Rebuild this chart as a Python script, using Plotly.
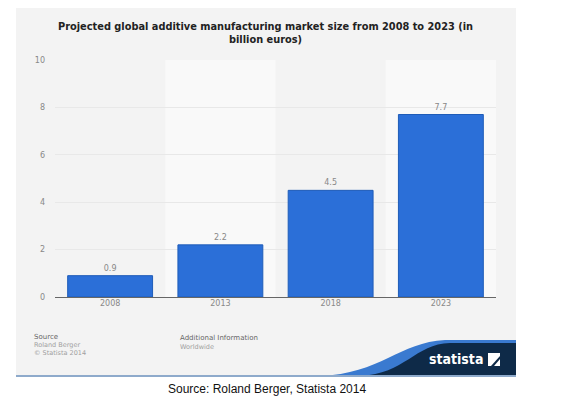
import plotly.graph_objects as go

years = ["2008", "2013", "2018", "2023"]
market_size = [0.9, 2.2, 4.5, 7.7]
value_labels = ["0.9", "2.2", "4.5", "7.7"]
y_ticks = [0, 2, 4, 6, 8, 10]

OFF = 8  # page body margin
W, H = 561 - OFF, 408 - OFF
L, R, T, B = 55, 496, 60, 297  # plot area in reference pixels


def px(x):
    return (x - L) / (R - L)


def py(y):
    return (B - y) / (B - T)


fig = go.Figure()
fig.add_trace(go.Bar(
    x=years, y=market_size, text=value_labels, textposition="outside",
    textfont=dict(family="DejaVu Sans", size=8, color="#888888"),
    marker=dict(color="#2b6fd8", line=dict(color="#1f5cb8", width=1)),
    width=0.77, cliponaxis=False, hoverinfo="skip",
))

shapes = []
shapes.append(dict(type="rect", xref="paper", yref="paper", layer="below",
                   x0=px(16), x1=px(516), y0=py(376), y1=py(5),
                   fillcolor="#f3f3f3", line=dict(width=0)))
for c in (1, 3):
    shapes.append(dict(type="rect", xref="x", yref="paper", layer="below",
                       x0=c - 0.5, x1=c + 0.5, y0=0, y1=1,
                       fillcolor="#f9f9f9", line=dict(width=0)))
shapes.append(dict(type="path", xref="paper", yref="paper", layer="above",
                   path=(f"M {px(320)},{py(376)} C {px(380)},{py(374)} {px(400)},{py(342)} {px(445)},{py(340)} "
                         f"L {px(516)},{py(340)} L {px(516)},{py(376)} Z"),
                   fillcolor="#3a7ad0", line=dict(width=0)))
shapes.append(dict(type="path", xref="paper", yref="paper", layer="above",
                   path=(f"M {px(360)},{py(376)} C {px(405)},{py(374)} {px(415)},{py(344)} {px(450)},{py(343)} "
                         f"L {px(516)},{py(343)} L {px(516)},{py(376)} Z"),
                   fillcolor="#0e2a48", line=dict(width=0)))
shapes.append(dict(type="line", xref="paper", yref="paper", layer="above",
                   x0=px(16), x1=px(516), y0=py(376), y1=py(376),
                   line=dict(color="#8eaacb", width=2)))
shapes.append(dict(type="path", xref="paper", yref="paper", layer="above",
                   path=(f"M {px(488)},{py(353)} L {px(500)},{py(353)} L {px(500)},{py(356)} "
                         f"L {px(491)},{py(366)} L {px(488)},{py(366)} Z"),
                   fillcolor="white", line=dict(width=0)))
shapes.append(dict(type="path", xref="paper", yref="paper", layer="above",
                   path=(f"M {px(500)},{py(359)} L {px(500)},{py(366)} L {px(494)},{py(366)} Z"),
                   fillcolor="white", line=dict(width=0)))

annotations = [
    dict(text="<b>Projected global additive manufacturing market size from 2008 to 2023 (in<br>billion euros)</b>",
         xref="paper", yref="paper", x=px(265), y=py(33), xanchor="center", yanchor="middle",
         showarrow=False, font=dict(family="DejaVu Sans", size=9.8, color="#222222")),
    dict(text="Source", xref="paper", yref="paper", x=px(32), y=py(337), xanchor="left", yanchor="middle",
         showarrow=False, font=dict(family="DejaVu Sans", size=7, color="#666666")),
    dict(text="Roland Berger<br>© Statista 2014", xref="paper", yref="paper", x=px(32), y=py(349),
         xanchor="left", yanchor="middle", showarrow=False, align="left",
         font=dict(family="DejaVu Sans", size=6.5, color="#a0a0a0")),
    dict(text="Additional Information", xref="paper", yref="paper", x=px(178), y=py(338), xanchor="left",
         yanchor="middle", showarrow=False, font=dict(family="DejaVu Sans", size=7, color="#666666")),
    dict(text="Worldwide", xref="paper", yref="paper", x=px(178), y=py(347), xanchor="left",
         yanchor="middle", showarrow=False, font=dict(family="DejaVu Sans", size=6.5, color="#a0a0a0")),
    dict(text="<b>statista</b>", xref="paper", yref="paper", x=px(485), y=py(359), xanchor="right",
         yanchor="middle", showarrow=False, font=dict(family="DejaVu Sans Condensed", size=14, color="white")),
    dict(text="Source: Roland Berger, Statista 2014", xref="paper", yref="paper", x=px(267), y=py(389),
         xanchor="center", yanchor="middle", showarrow=False,
         font=dict(family="Liberation Sans", size=12, color="#111111")),
]

fig.update_layout(
    width=W, height=H,
    margin=dict(l=L - OFF, r=W - (R - OFF), t=T - OFF, b=H - (B - OFF), pad=0),
    paper_bgcolor="white", plot_bgcolor="rgba(0,0,0,0)",
    showlegend=False, shapes=shapes, annotations=annotations,
    bargap=0.23,
)
fig.update_xaxes(type="category", showgrid=False, ticks="", showline=False,
                 tickfont=dict(family="DejaVu Sans", size=8, color="#888888"))
fig.update_yaxes(range=[0, 10], tickvals=y_ticks, showgrid=True, gridcolor="#e8e8e8", gridwidth=1,
                 zeroline=True, zerolinecolor="#666666", zerolinewidth=1,
                 ticks="", ticklabelstandoff=9,
                 tickfont=dict(family="DejaVu Sans", size=8, color="#888888"))

fig.write_html("out.html")
